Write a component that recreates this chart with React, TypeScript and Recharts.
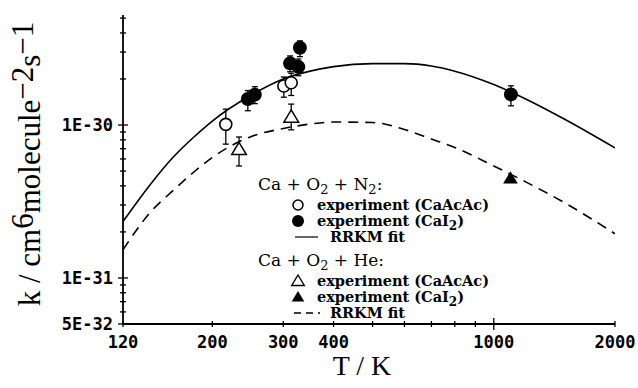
import React from "react";
import { ComposedChart, Line, Scatter, XAxis, YAxis, ErrorBar } from "recharts";

// RRKM fits
const fitT = [120, 140, 160, 180, 200, 250, 300, 350, 400, 500, 600, 700, 800, 1000, 1200, 1500, 2000];
const fitN2 = [2.34e-31, 4.06e-31, 6.18e-31, 8.35e-31, 1.062e-30, 1.57e-30, 2.0e-30, 2.25e-30, 2.41e-30, 2.52e-30, 2.52e-30, 2.43e-30, 2.25e-30, 1.84e-30, 1.48e-30, 1.09e-30, 7.08e-31];
const fitHe = [1.53e-31, 2.67e-31, 3.74e-31, 4.93e-31, 6.14e-31, 8.41e-31, 9.49e-31, 1.015e-30, 1.046e-30, 1.038e-30, 9.35e-31, 8.1e-31, 7.13e-31, 5.4e-31, 4.25e-31, 3.1e-31, 1.945e-31];

// Ca + O2 + N2, CaAcAc source (open circles)
const n2AcacT = [216, 301, 314];
const n2AcacK = [1.01e-30, 1.8e-30, 1.89e-30];
const n2AcacLo = [0.26e-30, 0.28e-30, 0.33e-30];
const n2AcacHi = [0.26e-30, 0.26e-30, 0.29e-30];

// Ca + O2 + N2, CaI2 source (filled circles)
const n2CaiT = [245, 255, 312, 327, 330, 1103];
const n2CaiK = [1.48e-30, 1.58e-30, 2.53e-30, 2.4e-30, 3.2e-30, 1.585e-30];
const n2CaiLo = [0.24e-30, 0.2e-30, 0.3e-30, 0.3e-30, 0.4e-30, 0.25e-30];
const n2CaiHi = [0.2e-30, 0.2e-30, 0.3e-30, 0.3e-30, 0.35e-30, 0.22e-30];

// Ca + O2 + He, CaAcAc source (open triangles)
const heAcacT = [233, 314];
const heAcacK = [6.94e-31, 1.13e-30];
const heAcacLo = [1.54e-31, 2.0e-31];
const heAcacHi = [1.41e-31, 2.4e-31];

// Ca + O2 + He, CaI2 source (filled triangle)
const heCaiT = [1100];
const heCaiK = [4.49e-31];

const xTicks = [120, 200, 300, 400, 500, 600, 700, 800, 900, 1000, 2000];
const xLabelValues = [120, 200, 300, 400, 1000, 2000];
const yTicks = [
  5e-32, 6e-32, 7e-32, 8e-32, 9e-32,
  1e-31, 2e-31, 3e-31, 4e-31, 5e-31, 6e-31, 7e-31, 8e-31, 9e-31,
  1e-30, 2e-30, 3e-30, 4e-30, 5e-30,
];
const yLabelValues = [5e-32, 1e-31, 1e-30];
const yLabelText = ["5E-32", "1E-31", "1E-30"];

const rows = (T: number[], k: number[], lo?: number[], hi?: number[]) =>
  T.map((t, i) => ({ T: t, k: k[i], err: lo && hi ? [lo[i], hi[i]] : undefined }));

const fitN2Data = rows(fitT, fitN2);
const fitHeData = rows(fitT, fitHe);
const n2AcacData = rows(n2AcacT, n2AcacK, n2AcacLo, n2AcacHi);
const n2CaiData = rows(n2CaiT, n2CaiK, n2CaiLo, n2CaiHi);
const heAcacData = rows(heAcacT, heAcacK, heAcacLo, heAcacHi);
const heCaiData = rows(heCaiT, heCaiK);

const tickFont = "'DejaVu Sans Mono', monospace";
const legendFont = "'DejaVu Serif', serif";

const near = (a: number, b: number) => Math.abs(a - b) / b < 1e-6;

const XTick = ({ x, y, payload, top }: any) => {
  const v = payload.value;
  const len = v === 1000 ? 6 : 3;
  const labelled = !top && xLabelValues.includes(v);
  return (
    <g>
      <line x1={x} x2={x} y1={y - len} y2={y + len} stroke="#000" strokeWidth={1.3} />
      {labelled && (
        <text x={x} y={y + 24} textAnchor="middle" fontFamily={tickFont} fontWeight="bold" fontSize={17} fill="#000">
          {v}
        </text>
      )}
    </g>
  );
};

const YTick = ({ x, y, payload, right }: any) => {
  const v = payload.value;
  const idx = yLabelValues.findIndex((l) => near(v, l));
  const len = idx >= 0 ? 5 : 3;
  return (
    <g>
      <line x1={x - len} x2={x + len} y1={y} y2={y} stroke="#000" strokeWidth={1.3} />
      {!right && idx >= 0 && (
        <text x={x - 10} y={y} dy="0.36em" textAnchor="end" fontFamily={tickFont} fontWeight="bold" fontSize={17} fill="#000">
          {yLabelText[idx]}
        </text>
      )}
    </g>
  );
};

const OpenCircle = (p: any) => <circle cx={p.cx} cy={p.cy} r={6} fill="#fff" stroke="#000" strokeWidth={1.6} />;
const FilledCircle = (p: any) => <circle cx={p.cx} cy={p.cy} r={7} fill="#000" />;
const triPath = (cx: number, cy: number, s: number) =>
  `M${cx},${cy - s} L${cx + s * 1.05},${cy + s * 0.75} L${cx - s * 1.05},${cy + s * 0.75} Z`;
const OpenTriangle = (p: any) => (
  <path d={triPath(p.cx, p.cy, 7)} fill="#fff" stroke="#000" strokeWidth={1.5} />
);
const FilledTriangle = (p: any) => <path d={triPath(p.cx, p.cy, 7)} fill="#000" />;

const Overlay = () => (
  <svg width={638} height={388} style={{ position: "absolute", left: 0, top: 0, pointerEvents: "none" }}>
    {/* axis titles */}
    <text x={362} y={375} textAnchor="middle" fontFamily="'Liberation Serif', serif" fontSize={28} fill="#000">
      T / K
    </text>
    <text
      transform="translate(40,164) rotate(-90)"
      textAnchor="middle"
      fontFamily="'Liberation Serif', serif"
      fontSize={31}
      fill="#000"
    >
      k / cm<tspan dy={-7}>6</tspan>
      <tspan dy={7}>molecule</tspan>
      <tspan dy={-7}>−2</tspan>
      <tspan dy={7}>s</tspan>
      <tspan dy={-7}>−1</tspan>
    </text>

    {/* legend */}
    <g fontFamily={legendFont} fill="#000">
      <text x={258} y={190} fontSize={17}>
        Ca + O<tspan dy={4} fontSize={13}>2</tspan>
        <tspan dy={-4}> + N</tspan>
        <tspan dy={4} fontSize={13}>2</tspan>
        <tspan dy={-4}>:</tspan>
      </text>
      <circle cx={298} cy={205} r={5} fill="#fff" stroke="#000" strokeWidth={1.5} />
      <text x={317} y={210} fontSize={14.5} fontWeight="bold">experiment (CaAcAc)</text>
      <circle cx={298} cy={221} r={6} fill="#000" />
      <text x={317} y={226} fontSize={14.5} fontWeight="bold">
        experiment (CaI<tspan dy={4} fontSize={12}>2</tspan>
        <tspan dy={-4}>)</tspan>
      </text>
      <line x1={295} x2={318} y1={237} y2={237} stroke="#000" strokeWidth={1.2} />
      <text x={330} y={242} fontSize={14.5} fontWeight="bold">RRKM fit</text>

      <text x={258} y={266} fontSize={17}>
        Ca + O<tspan dy={4} fontSize={13}>2</tspan>
        <tspan dy={-4}> + He:</tspan>
      </text>
      <path d={triPath(298, 281, 6)} fill="#fff" stroke="#000" strokeWidth={1.4} />
      <text x={317} y={286} fontSize={14.5} fontWeight="bold">experiment (CaAcAc)</text>
      <path d={triPath(298, 297, 6)} fill="#000" />
      <text x={317} y={302} fontSize={14.5} fontWeight="bold">
        experiment (CaI<tspan dy={4} fontSize={12}>2</tspan>
        <tspan dy={-4}>)</tspan>
      </text>
      <line x1={294} x2={320} y1={313} y2={313} stroke="#000" strokeWidth={1.4} strokeDasharray="7 5" />
      <text x={330} y={318} fontSize={14.5} fontWeight="bold">RRKM fit</text>
    </g>
  </svg>
);

export default function App() {
  return (
    <div style={{ position: "absolute", left: 0, top: 0, width: 638, height: 388, background: "#fff" }}>
      <ComposedChart width={638} height={388} margin={{ top: 15, right: 23, bottom: 0, left: 0 }}>
        <XAxis
          dataKey="T"
          type="number"
          scale="log"
          domain={[120, 2000]}
          allowDataOverflow
          ticks={xTicks}
          interval={0}
          height={64}
          tickSize={0}
          tickMargin={0}
          tickLine={false}
          axisLine={{ stroke: "#000", strokeWidth: 1.8 }}
          tick={<XTick />}
        />
        <XAxis
          xAxisId="top"
          orientation="top"
          type="number"
          scale="log"
          domain={[120, 2000]}
          allowDataOverflow
          ticks={xTicks}
          interval={0}
          height={0}
          tickSize={0}
          tickMargin={0}
          tickLine={false}
          axisLine={{ stroke: "#000", strokeWidth: 1.8 }}
          tick={<XTick top />}
        />
        <YAxis
          dataKey="k"
          type="number"
          scale="log"
          domain={[5e-32, 5.24e-30]}
          allowDataOverflow
          ticks={yTicks}
          interval={0}
          width={123}
          tickSize={0}
          tickMargin={0}
          tickLine={false}
          axisLine={{ stroke: "#000", strokeWidth: 1.8 }}
          tick={<YTick />}
        />
        <YAxis
          yAxisId="right"
          orientation="right"
          type="number"
          scale="log"
          domain={[5e-32, 5.24e-30]}
          allowDataOverflow
          ticks={yTicks}
          interval={0}
          width={0}
          tickSize={0}
          tickMargin={0}
          tickLine={false}
          axisLine={{ stroke: "#000", strokeWidth: 1.8 }}
          tick={<YTick right />}
        />
        <Line data={fitN2Data} dataKey="k" type="monotone" stroke="#000" strokeWidth={1.6} dot={false} isAnimationActive={false} />
        <Line data={fitHeData} dataKey="k" type="monotone" stroke="#000" strokeWidth={1.6} strokeDasharray="10 7" dot={false} isAnimationActive={false} />
        <Scatter data={n2AcacData} dataKey="k" shape={OpenCircle} isAnimationActive={false}>
          <ErrorBar dataKey="err" direction="y" width={3} stroke="#000" strokeWidth={1.3} />
        </Scatter>
        <Scatter data={n2CaiData} dataKey="k" shape={FilledCircle} isAnimationActive={false}>
          <ErrorBar dataKey="err" direction="y" width={3} stroke="#000" strokeWidth={1.3} />
        </Scatter>
        <Scatter data={heAcacData} dataKey="k" shape={OpenTriangle} isAnimationActive={false}>
          <ErrorBar dataKey="err" direction="y" width={3} stroke="#000" strokeWidth={1.3} />
        </Scatter>
        <Scatter data={heCaiData} dataKey="k" shape={FilledTriangle} isAnimationActive={false} />
      </ComposedChart>
      <Overlay />
    </div>
  );
}
